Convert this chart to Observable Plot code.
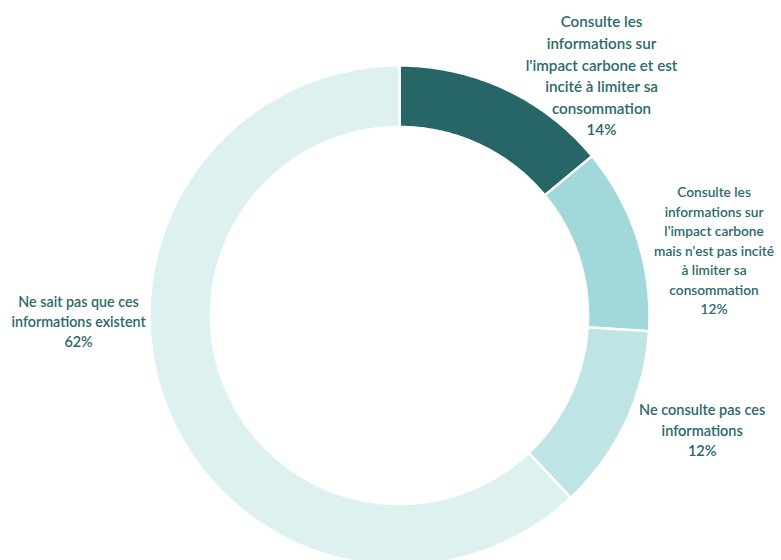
<!DOCTYPE html>
<html>
<head>
<meta charset="utf-8">
<script src="https://cdn.jsdelivr.net/npm/d3@7"></script>
<script src="https://cdn.jsdelivr.net/npm/@observablehq/plot@0.6"></script>
<style>
  html, body { margin: 0; padding: 0; background: #fff; overflow: hidden; }
  #chart svg { display: block; overflow: hidden; }
</style>
</head>
<body>
<div id="chart"></div>
<script>
// ---- data ----
const categories = [
  "Consulte les informations sur l'impact carbone et est incité à limiter sa consommation",
  "Consulte les informations sur l'impact carbone mais n'est pas incité à limiter sa consommation",
  "Ne consulte pas ces informations",
  "Ne sait pas que ces informations existent"
];
const labelLines = [
  ["Consulte les", "informations sur", "l'impact carbone et est", "incité à limiter sa", "consommation"],
  ["Consulte les", "informations sur", "l'impact carbone", "mais n'est pas incité", "à limiter sa", "consommation"],
  ["Ne consulte pas ces", "informations"],
  ["Ne sait pas que ces", "informations existent"]
];
const values = [14, 12, 12, 62];
const colors = ["#266667", "#A1D9DA", "#BEE4E5", "#DDF1F1"];

// ---- layout (styling) ----
const W = 781, H = 560;
const cx = 399, cy = 315;
const R = 250, r = 188.5;
const labelAngleNudge = [15, 6.5, -4.3, 20.35]; // degrees
const labelRadius = [313, 321, 324, 321];
const labelFont = [15.2, 13.7, 14.5, 14.3];

const total = d3.sum(values);
let acc = 0;
const slices = values.map((v, i) => {
  const a0 = acc / total * 2 * Math.PI;
  acc += v;
  const a1 = acc / total * 2 * Math.PI;
  return {cat: categories[i], v, a0, a1, i};
});

// ring polygons built from slice angles
const ringPts = [];
for (const s of slices) {
  const n = Math.max(8, Math.ceil((s.a1 - s.a0) / 0.01));
  const pts = [];
  for (let k = 0; k <= n; k++) {
    const a = s.a0 + (s.a1 - s.a0) * k / n;
    pts.push({cat: s.cat, x: R * Math.sin(a), y: -R * Math.cos(a)});
  }
  for (let k = n; k >= 0; k--) {
    const a = s.a0 + (s.a1 - s.a0) * k / n;
    pts.push({cat: s.cat, x: r * Math.sin(a), y: -r * Math.cos(a)});
  }
  pts.push({...pts[0]});
  ringPts.push(...pts);
}

const labels = slices.map(s => {
  const a = (s.a0 + s.a1) / 2 + labelAngleNudge[s.i] * Math.PI / 180;
  return {
    x: labelRadius[s.i] * Math.sin(a),
    y: -labelRadius[s.i] * Math.cos(a),
    text: labelLines[s.i].join("\n") + "\n" + s.v + "%",
    size: labelFont[s.i]
  };
});

const plot = Plot.plot({
  width: W,
  height: H,
  margin: 0,
  x: {domain: [-cx, W - cx], axis: null},
  y: {domain: [-cy, H - cy], reverse: true, axis: null},
  color: {domain: categories, range: colors},
  style: {fontFamily: "Lato, 'Noto Sans', sans-serif", background: "white"},
  marks: [
    Plot.line(ringPts, {x: "x", y: "y", z: "cat", fill: "cat", stroke: "white", strokeWidth: 2.5, strokeLinejoin: "miter"}),
    Plot.text(labels, {
      x: "x", y: "y", text: "text",
      fontSize: "size",
      lineHeight: 1.42,
      textAnchor: "middle",
      lineAnchor: "middle",
      dy: -2,
      fill: "#2B6A6A",
      fontWeight: 600
    })
  ]
});
document.getElementById("chart").appendChild(plot);
</script>
</body>
</html>
